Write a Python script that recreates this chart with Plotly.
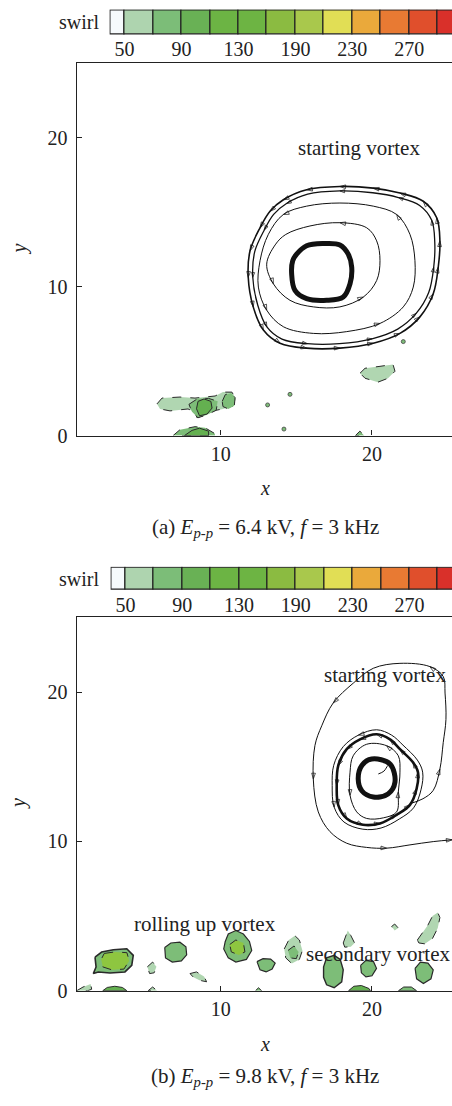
import plotly.graph_objects as go

W, H = 452, 1106
SERIF = "Liberation Serif, Times New Roman, serif"

# ---------------- colour bar (swirl levels) ----------------
cb_colors = ["#f6fafc", "#aed4af", "#7cbd78", "#69b155", "#6cb444", "#6db443",
             "#8bbb41", "#a9c84c", "#e1de55", "#eaa93b", "#e87a33", "#e04f2c", "#d9302a"]
cb_cell_width = [0.5] + [1] * 12          # first cell is half width
cb_tick_labels = ["50", "90", "130", "190", "230", "270"]
cb_tick_index = [0, 2, 4, 6, 8, 10]

# ---------------- panel (a) streamlines ----------------
a_outer_x = [24.49, 24.28, 23.39, 21.85, 20.09, 17.88, 15.68, 14.14, 13.26, 12.60, 11.94, 11.82,
             12.15, 12.82, 13.92, 15.68, 17.88, 20.09, 21.85, 23.17, 24.05, 24.38, 24.49]
a_outer_y = [13.07, 14.62, 15.73, 16.28, 16.61, 16.72, 16.50, 15.83, 15.06, 13.95, 12.41, 10.63,
             8.64, 7.09, 6.20, 5.87, 5.87, 6.20, 6.86, 7.97, 9.52, 11.30, 13.07]
a_outer2_x = [24.15, 23.95, 23.15, 21.75, 20.05, 17.88, 15.75, 14.35, 13.50, 12.88, 12.25, 12.12,
              12.45, 13.05, 14.05, 15.72, 17.85, 20.00, 21.70, 22.92, 23.75, 24.08, 24.15]
a_outer2_y = [13.00, 14.45, 15.45, 15.98, 16.30, 16.42, 16.20, 15.58, 14.85, 13.80, 12.35, 10.63,
              8.75, 7.30, 6.48, 6.17, 6.17, 6.50, 7.15, 8.20, 9.60, 11.30, 13.00]
a_third_x = [22.84, 22.51, 21.63, 20.09, 17.88, 15.68, 14.14, 13.15, 12.60, 12.49, 13.04, 14.14,
             16.12, 18.33, 20.53, 22.07, 22.73, 22.84]
a_third_y = [11.74, 13.51, 14.84, 15.40, 15.61, 15.40, 14.84, 13.51, 11.74, 9.97, 8.42, 7.31,
             6.86, 6.98, 7.53, 8.64, 9.97, 11.74]
a_second_x = [20.53, 20.31, 19.65, 17.88, 15.90, 14.30, 13.60, 13.04, 13.48, 14.58, 16.12, 17.88,
              19.43, 20.31, 20.53]
a_second_y = [11.74, 13.07, 13.95, 14.29, 14.07, 13.50, 12.80, 11.51, 10.19, 9.08, 8.64, 8.64,
              9.30, 10.41, 11.74]
a_core_x = [15.02, 15.68, 16.78, 17.88, 18.43, 18.66, 18.55, 18.10, 17.01, 15.68, 14.91, 14.69, 14.76, 15.02]
a_core_y = [12.18, 12.74, 12.89, 12.80, 12.18, 11.30, 10.19, 9.30, 9.08, 9.19, 9.75, 10.85, 11.74, 12.18]

# ---------------- panel (a) swirl regions ----------------
a_blob1_x = [5.79, 6.12, 7.31, 8.30, 9.63, 10.15, 10.74, 11.01, 10.81, 10.15, 9.49, 9.03, 8.43, 8.30, 7.84, 6.65, 5.99]
a_blob1_y = [2.13, 2.52, 2.59, 2.52, 2.66, 2.92, 2.92, 2.46, 1.99, 1.79, 1.66, 1.40, 1.20, 1.59, 1.79, 1.66, 1.79]
a_blob1_mid_x = [7.9, 8.5, 9.2, 9.8, 9.7, 9.1, 8.5, 8.1]
a_blob1_mid_y = [2.1, 2.5, 2.5, 2.3, 1.7, 1.4, 1.2, 1.6]
a_blob1_core_x = [8.5, 8.9, 9.35, 9.43, 9.1, 8.6, 8.4]
a_blob1_core_y = [2.3, 2.46, 2.3, 1.85, 1.45, 1.33, 1.8]
a_blob1_lobe_x = [10.1, 10.3, 10.7, 10.95, 10.9, 10.5, 10.15]
a_blob1_lobe_y = [2.3, 2.75, 2.86, 2.55, 2.0, 1.79, 1.95]
a_blob2_x = [19.21, 19.54, 20.53, 21.39, 21.52, 21.06, 20.40, 19.54]
a_blob2_y = [4.19, 4.52, 4.65, 4.78, 4.32, 3.85, 3.59, 3.85]
a_blob3_x = [6.85, 7.31, 8.30, 8.96, 9.62, 9.62]
a_blob3_y = [0.0, 0.4, 0.6, 0.53, 0.13, 0.0]
a_blob3_core_x = [7.6, 8.1, 8.6, 9.2, 9.2]
a_blob3_core_y = [0.0, 0.35, 0.5, 0.3, 0.0]
a_blob4_x = [18.9, 19.2, 19.5]
a_blob4_y = [0.0, 0.3, 0.0]
a_dots_x = [13.1, 14.58, 14.18, 22.07]
a_dots_y = [2.06, 2.77, 0.44, 6.31]

# ---------------- panel (b) streamlines ----------------
b_big_x = [22.51, 23.37, 24.05, 24.49, 24.71, 24.89, 24.83, 24.71, 23.83, 21.85, 20.09, 18.76, 17.44,
           16.68, 16.23, 16.12, 16.45, 17.22, 18.33, 19.65, 20.97, 22.51, 24.05, 25.29]
b_big_y = [12.53, 12.86, 13.42, 14.85, 16.62, 18.17, 19.94, 21.05, 21.71, 21.93, 21.60, 20.60, 19.28,
           17.75, 16.43, 14.19, 11.98, 10.66, 9.88, 9.60, 9.55, 9.77, 9.99, 10.11]
b_ring_x = [23.04, 22.71, 21.85, 21.19, 20.31, 19.21, 18.33, 17.77, 17.67, 17.77, 18.33, 19.40,
            20.53, 21.63, 22.51, 22.95, 23.04]
b_ring_y = [14.64, 15.30, 16.18, 16.84, 17.18, 16.84, 16.18, 15.08, 13.75, 12.43, 11.54, 11.12,
            11.21, 11.78, 12.45, 13.53, 14.64]
b_ring_out_x = [23.35, 23.00, 22.05, 21.30, 20.31, 19.10, 18.10, 17.47, 17.37, 17.50, 18.15, 19.40,
                20.60, 21.80, 22.75, 23.25, 23.35]
b_ring_out_y = [14.64, 15.45, 16.45, 17.12, 17.48, 17.12, 16.35, 15.10, 13.75, 12.30, 11.30, 10.82,
                10.90, 11.50, 12.25, 13.50, 14.64]
b_inner_x = [21.85, 21.74, 20.97, 19.65, 18.76, 18.55, 18.55, 18.99, 19.65, 20.75, 21.63, 21.74, 21.85]
b_inner_y = [14.64, 15.74, 16.41, 16.51, 15.74, 14.64, 13.09, 11.98, 11.54, 11.58, 11.98, 13.31, 14.64]
b_core_x = [19.98, 21.19, 21.52, 21.06, 20.09, 19.34, 19.09, 19.34, 19.98]
b_core_y = [15.52, 15.19, 13.97, 13.18, 12.98, 13.38, 14.19, 15.10, 15.52]
b_tail_x = [20.42, 20.79, 21.06, 21.19]
b_tail_y = [14.52, 14.71, 15.10, 15.19]

# ---------------- panel (b) swirl regions ----------------
b_blob1_x = [1.69, 2.13, 2.90, 3.79, 4.22, 4.12, 3.67, 2.68, 1.91, 1.58, 1.76, 1.69]
b_blob1_y = [2.25, 2.59, 2.75, 2.81, 2.37, 1.70, 1.26, 1.19, 1.26, 1.15, 1.59, 2.04]
b_blob1_core_x = [2.3, 3.0, 3.8, 3.95, 3.6, 2.8, 2.2, 2.1]
b_blob1_core_y = [2.5, 2.6, 2.55, 2.0, 1.45, 1.4, 1.6, 2.1]
b_blob2_x = [6.3, 6.7, 7.3, 7.7, 7.75, 7.4, 6.8, 6.35]
b_blob2_y = [2.9, 3.2, 3.25, 2.95, 2.4, 2.0, 1.92, 2.2]
b_blob3_x = [10.3, 10.5, 11.0, 11.5, 11.9, 12.05, 11.7, 11.0, 10.5, 10.2]
b_blob3_y = [3.3, 3.8, 4.03, 3.8, 3.3, 2.7, 2.1, 1.92, 2.2, 2.8]
b_blob3_core_x = [10.6, 11.0, 11.5, 11.6, 11.2, 10.7]
b_blob3_core_y = [3.1, 3.4, 3.2, 2.6, 2.4, 2.6]
b_blob4_x = [12.4, 12.8, 13.3, 13.6, 13.4, 13.0, 12.6]
b_blob4_y = [1.95, 2.15, 2.12, 1.85, 1.45, 1.26, 1.4]
b_blob5_x = [14.2, 14.5, 14.9, 15.2, 15.4, 15.2, 14.7, 14.3]
b_blob5_y = [2.8, 3.4, 3.69, 3.4, 2.7, 2.1, 1.82, 2.2]
b_blob5_core_x = [14.45, 14.85, 15.15, 15.0, 14.6]
b_blob5_core_y = [2.7, 3.0, 2.6, 2.15, 2.2]
b_blob6_x = [16.8, 17.0, 17.5, 17.9, 18.1, 18.0, 17.5, 17.0, 16.8]
b_blob6_y = [1.6, 2.2, 2.37, 2.1, 1.4, 0.6, 0.2, 0.4, 0.9]
b_blob7_x = [18.1, 18.25, 18.4, 18.6, 18.85, 18.6, 18.2]
b_blob7_y = [3.2, 3.7, 4.03, 3.7, 3.2, 2.95, 2.92]
b_blob8_x = [19.25, 19.6, 20.1, 20.3, 20.0, 19.6, 19.3]
b_blob8_y = [1.7, 2.04, 1.95, 1.5, 1.0, 0.93, 1.2]
b_blob9_x = [22.85, 23.2, 23.7, 24.05, 23.9, 23.4, 22.95]
b_blob9_y = [1.5, 1.92, 1.85, 1.4, 0.8, 0.49, 0.8]
b_blob10_x = [23.0, 23.3, 23.7, 24.0, 24.35, 24.49, 24.35, 24.0, 23.5, 23.1]
b_blob10_y = [3.4, 3.85, 4.4, 5.0, 5.24, 4.9, 4.2, 3.5, 3.14, 3.2]
b_blob11_x = [21.3, 21.5, 21.74, 21.5]
b_blob11_y = [4.3, 4.47, 4.2, 4.03]
b_blob12_x = [5.15, 5.5, 5.75, 5.6, 5.3]
b_blob12_y = [1.6, 1.92, 1.6, 1.2, 1.15]
b_blob13_x = [7.97, 8.4, 8.9, 9.07, 8.6, 8.2]
b_blob13_y = [1.15, 1.26, 0.95, 0.6, 0.7, 0.9]
b_base1_x = [0.48, 0.9, 1.4, 1.47, 1.2]
b_base1_y = [0.0, 0.25, 0.45, 0.1, 0.0]
b_base2_x = [2.2, 2.5, 3.0, 3.5, 3.8]
b_base2_y = [0.0, 0.22, 0.3, 0.22, 0.0]
b_base3_x = [5.2, 5.5, 5.8]
b_base3_y = [0.0, 0.25, 0.0]
b_base4_x = [12.3, 12.5, 12.7]
b_base4_y = [0.0, 0.2, 0.0]
b_base5_x = [18.45, 18.8, 19.3, 19.8, 19.9]
b_base5_y = [0.0, 0.3, 0.35, 0.15, 0.0]
b_base6_x = [21.75, 22.1, 22.6, 22.95]
b_base6_y = [0.0, 0.25, 0.25, 0.0]

LIGHT, MID, DARK, BRIGHT = "#b0d6b1", "#7dbd78", "#64b050", "#8ec640"

fig = go.Figure()


def blob(xs, ys, fill, ax, dash="dash", lw=1.0):
    fig.add_trace(go.Scatter(x=xs + xs[:1], y=ys + ys[:1], mode="lines", fill="toself",
                             fillcolor=fill, line=dict(color="#2a2a2a", width=lw, dash=dash),
                             xaxis="x" + ax, yaxis="y" + ax, hoverinfo="skip", showlegend=False))


def stream(xs, ys, ax, width=1.0, arrows=(), asize=6):
    sizes = [asize if i in arrows else 0 for i in range(len(xs))]
    fig.add_trace(go.Scatter(x=xs, y=ys, mode="lines+markers",
                             line=dict(color="#111", width=width, shape="spline", smoothing=1.0),
                             marker=dict(symbol="arrow-open", size=sizes, angleref="previous",
                                         color="#111", line=dict(color="#111", width=1)),
                             xaxis="x" + ax, yaxis="y" + ax, hoverinfo="skip", showlegend=False))


# colour bars
for ax in ("", "3"):
    centers, left = [], -0.5
    for w in cb_cell_width:
        centers.append(left + w / 2)
        left += w
    fig.add_trace(go.Bar(x=centers, y=[1] * len(cb_colors), width=cb_cell_width, base=0,
                         marker=dict(color=cb_colors, line=dict(color="#222", width=1.2)),
                         xaxis="x" + ax, yaxis="y" + ax, hoverinfo="skip", showlegend=False))

# panel (a)
blob(a_blob1_x, a_blob1_y, LIGHT, "2")
blob(a_blob1_mid_x, a_blob1_mid_y, MID, "2")
blob(a_blob1_core_x, a_blob1_core_y, DARK, "2", dash="solid")
blob(a_blob1_lobe_x, a_blob1_lobe_y, MID, "2")
blob(a_blob2_x, a_blob2_y, LIGHT, "2")
blob(a_blob3_x, a_blob3_y, MID, "2")
blob(a_blob3_core_x, a_blob3_core_y, DARK, "2", dash="solid")
blob(a_blob4_x, a_blob4_y, MID, "2")
fig.add_trace(go.Scatter(x=a_dots_x, y=a_dots_y, mode="markers",
                         marker=dict(size=4, color=MID, line=dict(color="#444", width=0.8)),
                         xaxis="x2", yaxis="y2", hoverinfo="skip", showlegend=False))
stream(a_outer_x, a_outer_y, "2", 1.6, arrows=range(1, 23), asize=6)
stream(a_outer2_x, a_outer2_y, "2", 1.3, arrows=range(1, 23, 2), asize=5)
stream(a_third_x, a_third_y, "2", 1.0, arrows=(2, 6, 10, 14), asize=6)
stream(a_second_x, a_second_y, "2", 1.0, arrows=(3, 8, 12), asize=6)
stream(a_core_x, a_core_y, "2", 5.0)

# panel (b)
blob(b_blob1_x, b_blob1_y, MID, "4", dash="solid", lw=1.6)
blob(b_blob1_core_x, b_blob1_core_y, BRIGHT, "4", dash="dash")
blob(b_blob2_x, b_blob2_y, MID, "4", dash="solid", lw=1.2)
blob(b_blob3_x, b_blob3_y, MID, "4", dash="solid", lw=1.2)
blob(b_blob3_core_x, b_blob3_core_y, BRIGHT, "4", dash="dash")
blob(b_blob4_x, b_blob4_y, MID, "4", dash="solid", lw=1.2)
blob(b_blob5_x, b_blob5_y, LIGHT, "4")
blob(b_blob5_core_x, b_blob5_core_y, MID, "4")
blob(b_blob6_x, b_blob6_y, MID, "4", dash="solid", lw=1.4)
blob(b_blob7_x, b_blob7_y, LIGHT, "4")
blob(b_blob8_x, b_blob8_y, MID, "4", dash="solid", lw=1.2)
blob(b_blob9_x, b_blob9_y, MID, "4", dash="solid", lw=1.2)
blob(b_blob10_x, b_blob10_y, LIGHT, "4")
blob(b_blob11_x, b_blob11_y, LIGHT, "4")
blob(b_blob12_x, b_blob12_y, LIGHT, "4")
blob(b_blob13_x, b_blob13_y, LIGHT, "4")
blob(b_base1_x, b_base1_y, LIGHT, "4")
blob(b_base2_x, b_base2_y, DARK, "4", dash="solid")
blob(b_base3_x, b_base3_y, LIGHT, "4")
blob(b_base4_x, b_base4_y, MID, "4")
blob(b_base5_x, b_base5_y, DARK, "4", dash="solid")
blob(b_base6_x, b_base6_y, MID, "4", dash="solid")
stream(b_big_x, b_big_y, "4", 1.0, arrows=(3, 8, 12, 15, 20, 23), asize=6)
stream(b_ring_out_x, b_ring_out_y, "4", 1.0, arrows=(5, 9), asize=6)
stream(b_ring_x, b_ring_y, "4", 2.6, arrows=range(1, 17), asize=6)
stream(b_inner_x, b_inner_y, "4", 1.0, arrows=(2, 6, 11), asize=6)
stream(b_core_x, b_core_y, "4", 5.0)
stream(b_tail_x, b_tail_y, "4", 1.0)

# ---------------- layout ----------------
tickfont = dict(family=SERIF, size=20, color="#222")


def px(p):  # window column -> paper fraction
    return p / W


def py(p):  # window row -> paper fraction
    return 1 - p / H


cb_x = dict(range=[-0.53, 11.5], tickvals=cb_tick_index, ticktext=cb_tick_labels, ticks="",
            showline=False, showgrid=False, zeroline=False, tickfont=tickfont, fixedrange=True)
cb_y = dict(range=[-0.03, 1.03], visible=False, fixedrange=True)
main_x = dict(range=[0.48, 25.29], tickvals=[10, 20], ticks="inside", ticklen=5, tickwidth=1,
              tickcolor="#222", showline=True, linecolor="#222", linewidth=1.3, mirror=True,
              showgrid=False, zeroline=False, tickfont=tickfont, fixedrange=True)
main_y = dict(range=[0, 25], tickvals=[0, 10, 20], ticks="inside", ticklen=5, tickwidth=1,
              tickcolor="#222", showline=True, linecolor="#222", linewidth=1.3, mirror=False,
              showgrid=False, zeroline=False, tickfont=tickfont, fixedrange=True, ticklabelstandoff=4)

fig.update_layout(
    width=W, height=H, margin=dict(l=0, r=0, t=0, b=0),
    paper_bgcolor="white", plot_bgcolor="rgba(0,0,0,0)", showlegend=False, bargap=0,
    xaxis=dict(cb_x, domain=[px(109.5), 1], anchor="y"),
    yaxis=dict(cb_y, domain=[py(35.5), py(9.5)], anchor="x"),
    xaxis2=dict(main_x, domain=[px(76.7), 1], anchor="y2"),
    yaxis2=dict(main_y, domain=[py(440), py(63.75)], anchor="x2"),
    xaxis3=dict(cb_x, domain=[px(110.5), 1], anchor="y3"),
    yaxis3=dict(cb_y, domain=[py(596.5), py(572.5)], anchor="x3"),
    xaxis4=dict(main_x, domain=[px(76.7), 1], anchor="y4"),
    yaxis4=dict(main_y, domain=[py(1000.7), py(623.7)], anchor="x4"),
)

txt = dict(family=SERIF, size=21, color="#222")
ann = []
for cy in (22.5, 584.5):
    ann.append(dict(x=px(101), y=py(cy), xref="paper", yref="paper", text="swirl", showarrow=False,
                    xanchor="right", yanchor="middle", font=dict(family=SERIF, size=20, color="#222")))
for cy in (252, 812):
    ann.append(dict(x=px(19), y=py(cy), xref="paper", yref="paper", text="<i>y</i>", showarrow=False,
                    textangle=-90, xanchor="center", yanchor="middle", font=dict(family=SERIF, size=20, color="#222")))
for cy in (493, 1054):
    ann.append(dict(x=px(265), y=py(cy), xref="paper", yref="paper", text="<i>x</i>", showarrow=False,
                    xanchor="center", yanchor="middle", font=dict(family=SERIF, size=20, color="#222")))
ann.append(dict(x=px(265), y=py(533), xref="paper", yref="paper", showarrow=False,
                text="(a) <i>E</i><sub><i>p-p</i></sub> = 6.4 kV, <i>f</i> = 3 kHz", font=txt,
                xanchor="center", yanchor="middle"))
ann.append(dict(x=px(265), y=py(1088), xref="paper", yref="paper", showarrow=False,
                text="(b) <i>E</i><sub><i>p-p</i></sub> = 9.8 kV, <i>f</i> = 3 kHz", font=txt,
                xanchor="center", yanchor="middle"))
ann.append(dict(x=19.14, y=19.27, xref="x2", yref="y2", text="starting vortex", showarrow=False, font=txt))
ann.append(dict(x=20.85, y=21.13, xref="x4", yref="y4", text="starting vortex", showarrow=False, font=txt))
ann.append(dict(x=8.93, y=4.49, xref="x4", yref="y4", text="rolling up vortex", showarrow=False, font=txt))
ann.append(dict(x=20.4, y=2.48, xref="x4", yref="y4", text="secondary vortex", showarrow=False, font=txt))
fig.update_layout(annotations=ann)

# remove the page's default body margin so the figure fills the window exactly
fig.write_html("out.html", config={"displayModeBar": False},
               post_script="document.body.style.margin='0px';document.body.style.overflow='hidden';")
